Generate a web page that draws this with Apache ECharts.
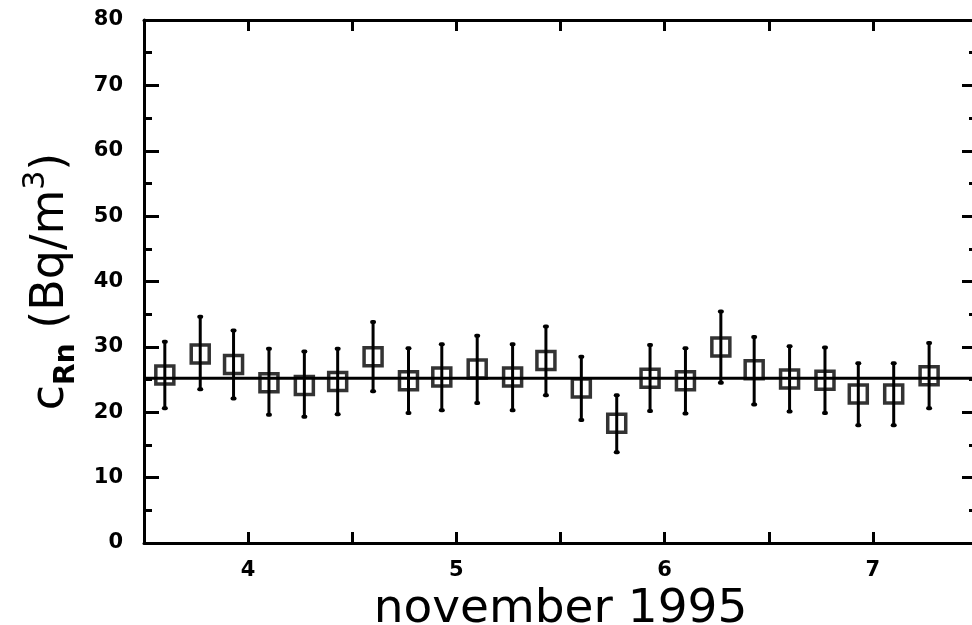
<!DOCTYPE html>
<html>
<head>
<meta charset="utf-8">
<script src="https://cdn.jsdelivr.net/npm/echarts@6/dist/echarts.min.js"></script>
<style>
  html, body { margin: 0; padding: 0; background: #fff; overflow: hidden; }
  #main { width: 1000px; height: 625px; }
</style>
</head>
<body>
<div id="main"></div>
<script>
// measurement times (days of november 1995), one every 4 h
var days = [3.60, 3.77, 3.93, 4.10, 4.27, 4.43, 4.60, 4.77, 4.93, 5.10, 5.27, 5.43,
            5.60, 5.77, 5.93, 6.10, 6.27, 6.43, 6.60, 6.77, 6.93, 7.10, 7.27];
// radon concentration (Bq/m3)
var cRn = [25.7, 28.9, 27.3, 24.5, 24.1, 24.7, 28.5, 24.8, 25.4, 26.6, 25.4, 27.9,
           23.7, 18.3, 25.2, 24.8, 30.0, 26.5, 25.1, 24.9, 22.8, 22.8, 25.6];
var errHigh = [30.8, 34.6, 32.5, 29.7, 29.3, 29.7, 33.8, 29.8, 30.4, 31.7, 30.4, 33.1,
               28.5, 22.6, 30.3, 29.8, 35.4, 31.5, 30.1, 29.9, 27.5, 27.5, 30.6];
var errLow = [20.6, 23.5, 22.1, 19.6, 19.3, 19.7, 23.2, 19.9, 20.3, 21.4, 20.3, 22.6,
              18.8, 13.9, 20.2, 19.8, 24.5, 21.2, 20.1, 19.9, 18.0, 18.0, 20.6];
// mean value (fit line)
var meanLevel = 25.2;
var xRange = [3.5, 7.5];
var yRange = [0, 80];

var myChart = echarts.init(document.getElementById('main'));

var points = [];
var bars = [];
for (var i = 0; i < days.length; i++) {
    points.push([days[i], cRn[i]]);
    bars.push([days[i], errLow[i], errHigh[i]]);
}

var axisLine = { show: true, onZero: false, lineStyle: { color: '#000', width: 3 } };
var labelFont = { color: '#000', fontFamily: 'DejaVu Sans', fontWeight: 'bold', fontSize: 21 };

var option = {
    backgroundColor: '#fff',
    animation: false,
    grid: { left: 144, right: 23, top: 20, bottom: 82, outerBoundsMode: 'none', containLabel: false },
    xAxis: [
        {
            type: 'value',
            min: xRange[0], max: xRange[1], interval: 0.5,
            position: 'bottom',
            axisLine: axisLine,
            axisTick: { show: true, inside: true, length: 11, lineStyle: { color: '#000', width: 3 } },
            axisLabel: Object.assign({
                margin: 17,
                formatter: function (v) { return v % 1 === 0 ? String(v) : ''; }
            }, labelFont),
            splitLine: { show: false },
            name: 'november 1995',
            nameLocation: 'middle',
            nameGap: 33,
            nameTextStyle: { color: '#000', fontFamily: 'DejaVu Sans', fontSize: 47 }
        },
        {
            type: 'value',
            min: xRange[0], max: xRange[1], interval: 0.5,
            position: 'top',
            axisLine: axisLine,
            axisTick: { show: true, inside: true, length: 11, lineStyle: { color: '#000', width: 3 } },
            axisLabel: { show: false },
            splitLine: { show: false }
        }
    ],
    yAxis: [
        {
            type: 'value',
            min: yRange[0], max: yRange[1], interval: 10,
            position: 'left',
            axisLine: axisLine,
            axisTick: { show: true, inside: true, length: 15, lineStyle: { color: '#000', width: 3 } },
            minorTick: { show: true, splitNumber: 2, length: 8, lineStyle: { color: '#000', width: 3 } },
            axisLabel: Object.assign({ margin: 21 }, labelFont),
            splitLine: { show: false },
            name: '{a|c}{s|Rn}{a| (Bq/m}{p|3}{a|)}',
            nameLocation: 'middle',
            nameRotate: 90,
            nameGap: 63,
            nameTextStyle: {
                color: '#000',
                rich: {
                    a: { fontFamily: 'DejaVu Sans', fontSize: 46, lineHeight: 60, verticalAlign: 'middle' },
                    s: { fontFamily: 'DejaVu Sans', fontWeight: 'bold', fontSize: 28, lineHeight: 26, verticalAlign: 'bottom' },
                    p: { fontFamily: 'DejaVu Sans', fontSize: 30, lineHeight: 30, verticalAlign: 'top' }
                }
            }
        },
        {
            type: 'value',
            min: yRange[0], max: yRange[1], interval: 10,
            position: 'right',
            axisLine: axisLine,
            axisTick: { show: true, inside: true, length: 15, lineStyle: { color: '#000', width: 3 } },
            minorTick: { show: true, splitNumber: 2, length: 8, lineStyle: { color: '#000', width: 3 } },
            axisLabel: { show: false },
            splitLine: { show: false }
        }
    ],
    series: [
        {
            name: 'mean',
            type: 'line',
            data: [[xRange[0], meanLevel], [xRange[1], meanLevel]],
            symbol: 'none',
            lineStyle: { color: '#000', width: 3 },
            z: 1
        },
        {
            name: 'error',
            type: 'custom',
            data: bars,
            z: 2,
            renderItem: function (params, api) {
                var x = api.value(0);
                var lo = api.coord([x, api.value(1)]);
                var hi = api.coord([x, api.value(2)]);
                var style = { stroke: '#000', lineWidth: 3 };
                return {
                    type: 'group',
                    children: [
                        { type: 'line', shape: { x1: lo[0], y1: lo[1], x2: hi[0], y2: hi[1] }, style: style },
                        { type: 'rect', shape: { x: lo[0] - 3, y: lo[1] - 2, width: 6, height: 4, r: 2 }, style: { fill: '#000' } },
                        { type: 'rect', shape: { x: hi[0] - 3, y: hi[1] - 2, width: 6, height: 4, r: 2 }, style: { fill: '#000' } }
                    ]
                };
            }
        },
        {
            name: 'cRn',
            type: 'scatter',
            data: points,
            symbol: 'rect',
            symbolSize: 18,
            itemStyle: { color: 'rgba(0,0,0,0)', borderColor: '#000', borderWidth: 3.5 },
            z: 3
        }
    ]
};

myChart.setOption(option);
</script>
</body>
</html>
